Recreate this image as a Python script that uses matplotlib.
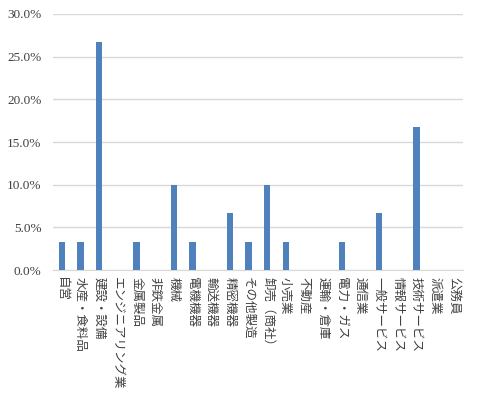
import matplotlib
matplotlib.use('Agg')
import matplotlib.pyplot as plt
from matplotlib.ticker import PercentFormatter
from matplotlib.transforms import ScaledTranslation
import numpy as np

# 業種別の割合
categories = ['自営', '水産・食料品', '建設・設備', 'エンジニアリング業', '金属製品',
              '非鉄金属', '機械', '電機機器', '輸送機器', '精密機器', 'その他製造',
              '卸売（商社）', '小売業', '不動産', '運輸・倉庫', '電力・ガス', '通信業',
              '一般サービス', '情報サービス', '技術サービス', '派遣業', '公務員']
shares = [0.033, 0.033, 0.267, 0.0, 0.033, 0.0, 0.100, 0.033, 0.0, 0.067, 0.033,
          0.100, 0.033, 0.0, 0.0, 0.033, 0.0, 0.067, 0.0, 0.167, 0.0, 0.0]
y_ticks = [0.0, 0.05, 0.10, 0.15, 0.20, 0.25, 0.30]

fig = plt.figure(figsize=(4.78, 3.95), dpi=100)
ax = fig.add_axes([0.110, 0.316, 0.859, 0.649])

x = np.arange(len(categories))
ax.bar(x, shares, width=0.33, color='#4F81BD', zorder=3)

ax.set_xlim(-0.5, len(categories) - 0.5)
ax.set_ylim(0, 0.30)
ax.set_yticks(y_ticks)
ax.yaxis.set_major_formatter(PercentFormatter(1.0, decimals=1))
for lab in ax.get_yticklabels():
    lab.set_family(['Liberation Serif', 'DejaVu Serif'])
    lab.set_fontsize(9.5)
    lab.set_color('#404040')

ax.set_xticks(x)
ax.set_xticklabels(categories, rotation=-90, fontsize=9,
                   family=['Noto Sans CJK JP', 'DejaVu Sans'], color='#404040',
                   va='top', ha='center')
# 少し左へずらす
shift = ScaledTranslation(-2 / 100, 0, fig.dpi_scale_trans)
for lab in ax.get_xticklabels():
    lab.set_transform(lab.get_transform() + shift)
ax.tick_params(axis='both', length=0)
ax.tick_params(axis='x', pad=5)
ax.tick_params(axis='y', pad=8)

ax.grid(axis='y', color='#d9d9d9', linewidth=1, zorder=0)
for side in ['left', 'right', 'top']:
    ax.spines[side].set_visible(False)
ax.spines['bottom'].set_color('#d9d9d9')

fig.savefig('out.png', dpi=100)
plt.close(fig)
